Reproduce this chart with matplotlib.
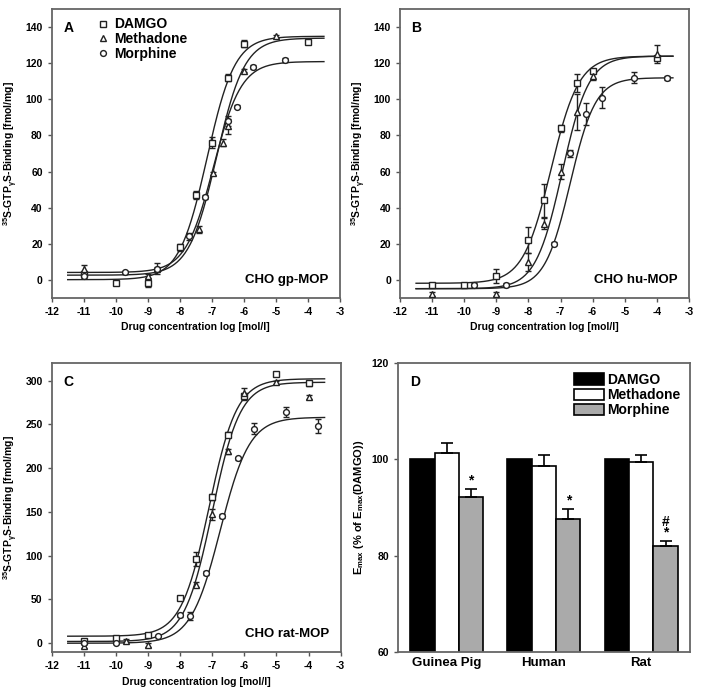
import numpy as np
import matplotlib.pyplot as plt
from matplotlib.lines import Line2D

plt.rcParams['font.family'] = ['Liberation Sans', 'DejaVu Sans']
plt.rcParams['font.weight'] = 'bold'
plt.rcParams['mathtext.default'] = 'regular'
plt.rcParams['axes.unicode_minus'] = False

drugs = ['DAMGO', 'Methadone', 'Morphine']
markers = ['s', '^', 'o']

# Panel A - CHO gp-MOP
a_x = {
    'DAMGO': [-11, -10, -9, -8, -7.5, -7, -6.5, -6, -4],
    'Methadone': [-11, -9, -8.7, -7.4, -6.95, -6.65, -6.5, -6, -5],
    'Morphine': [-11, -9.7, -8.7, -7.7, -7.2, -6.5, -6.2, -5.7, -4.7],
}
a_y = {
    'DAMGO': [3, -2, -2, 18, 47, 76, 112, 131, 132],
    'Methadone': [6, 2, 6, 28, 59, 76, 85, 116, 135],
    'Morphine': [2, 4, 6, 24, 46, 88, 96, 118, 122],
}
a_err = {
    'DAMGO': [1, 1, 2, 2, 2, 3, 2, 2, 1],
    'Methadone': [2, 1, 3, 2, 1, 2, 4, 1, 1],
    'Morphine': [1, 1, 1, 2, 1, 3, 1, 1, 1],
}
# fit parameters: bottom, top, logEC50, hill
a_fit = {
    'DAMGO': (0, 135, -7.15, 1.0),
    'Methadone': (2.5, 134, -6.85, 1.0),
    'Morphine': (4, 121, -6.95, 1.0),
}

# Panel B - CHO hu-MOP
b_x = {
    'DAMGO': [-11, -10, -9, -8, -7.5, -7, -6.5, -6, -4],
    'Methadone': [-11, -9, -8, -7.5, -7, -6.5, -6, -4],
    'Morphine': [-9.7, -8.7, -7.2, -6.7, -6.2, -5.7, -4.7, -3.7],
}
b_y = {
    'DAMGO': [-3, -3, 2, 22, 44, 84, 109, 116, 123],
    'Methadone': [-8, -8, 10, 31, 60, 93, 113, 125],
    'Morphine': [-3, -3, 20, 70, 92, 101, 112, 112],
}
b_err = {
    'DAMGO': [1, 1, 4, 7, 9, 2, 5, 1, 1],
    'Methadone': [1, 1, 5, 3, 4, 10, 2, 5],
    'Morphine': [1, 1, 1, 2, 6, 6, 3, 1],
}
b_fit = {
    'DAMGO': (-2, 124, -7.3, 1.0),
    'Methadone': (-5, 124, -6.95, 1.05),
    'Morphine': (-5, 112, -6.7, 1.1),
}

# Panel C - CHO rat-MOP
c_x = {
    'DAMGO': [-11, -10, -9, -8, -7.5, -7, -6.5, -6, -5, -4],
    'Methadone': [-11, -9.7, -9, -7.5, -7, -6.5, -6, -5, -4],
    'Morphine': [-11, -10, -8.7, -8, -7.7, -7.2, -6.7, -6.2, -5.7, -4.7, -3.7],
}
c_y = {
    'DAMGO': [2, 6, 9, 52, 96, 167, 238, 282, 308, 297],
    'Methadone': [-3, 3, -2, 67, 147, 219, 286, 298, 281],
    'Morphine': [0, 0, 8, 32, 31, 80, 145, 211, 245, 264, 248],
}
c_err = {
    'DAMGO': [2, 2, 2, 2, 8, 3, 3, 4, 2, 3],
    'Methadone': [2, 2, 2, 3, 6, 3, 6, 2, 2],
    'Morphine': [1, 1, 1, 2, 5, 2, 2, 2, 6, 6, 8],
}
c_fit = {
    'DAMGO': (8, 302, -7.1, 1.0),
    'Methadone': (2, 298, -7.0, 1.0),
    'Morphine': (0, 258, -6.75, 0.95),
}

# Panel D - Emax relative to DAMGO
species = ['Guinea Pig', 'Human', 'Rat']
emax_damgo = [100, 100, 100]
emax_methadone = [101.3, 98.6, 99.4]
emax_morphine = [92.1, 87.7, 81.9]
err_methadone = [2.0, 2.4, 1.4]
err_morphine = [1.8, 2.0, 1.2]
sig_marks = ['*', '*', '#\n*']


def hill(x, bottom, top, ec50, h):
    return bottom + (top - bottom) / (1 + 10 ** ((ec50 - x) * h))


def dose_panel(ax, xs, ys, errs, fits, ylim, yticks, letter, cell, legend=False):
    xx = np.linspace(-11.5, -3.5, 300)
    for d, m in zip(drugs, markers):
        ax.plot(xx, hill(xx, *fits[d]), color='#222222', lw=1.0, zorder=2)
        ax.errorbar(xs[d], ys[d], yerr=errs[d], fmt=m, ms=4.2, mfc='white',
                    mec='#222222', mew=1.0, ecolor='#222222', elinewidth=1.0,
                    capsize=2.5, zorder=3)
    ax.set_xlim(-12, -3)
    ax.set_xticks(range(-12, -2))
    ax.set_ylim(*ylim)
    ax.set_yticks(yticks)
    ax.set_xlabel('Drug concentration log [mol/l]', fontsize=7.5, fontweight='bold')
    ax.set_ylabel('$^{35}$S-GTP$_{\\gamma}$S-Binding [fmol/mg]', fontsize=7.5, fontweight='bold')
    ax.text(0.04, 0.96, letter, transform=ax.transAxes, fontsize=10, fontweight='bold', va='top')
    ax.text(0.96, 0.04, cell, transform=ax.transAxes, fontsize=9.5, fontweight='bold',
            ha='right', va='bottom')
    if legend:
        handles = [Line2D([], [], ls='none', marker=m, ms=4.2, mfc='white',
                          mec='#222222', mew=1.0) for m in markers]
        ax.legend(handles, drugs, loc='upper left', bbox_to_anchor=(0.12, 1.01),
                  frameon=False, fontsize=10, handletextpad=0.4, labelspacing=0.05,
                  handlelength=0.8, borderpad=0.3)


def style(ax):
    for s in ax.spines.values():
        s.set_color('#666666')
        s.set_linewidth(1.3)
    ax.tick_params(labelsize=7.5, length=3, width=1, color='#555555')
    for lab in ax.get_xticklabels() + ax.get_yticklabels():
        lab.set_fontweight('bold')


fig = plt.figure(figsize=(7.10, 6.97), dpi=100)
axA = fig.add_axes([0.0728, 0.5729, 0.406, 0.4138])
axB = fig.add_axes([0.5634, 0.5729, 0.407, 0.4138])
axC = fig.add_axes([0.0728, 0.0646, 0.407, 0.4146])
axD = fig.add_axes([0.5606, 0.0646, 0.411, 0.4146])

dose_panel(axA, a_x, a_y, a_err, a_fit, (-10, 150), range(0, 141, 20), 'A', 'CHO gp-MOP', legend=True)
dose_panel(axB, b_x, b_y, b_err, b_fit, (-10, 150), range(0, 141, 20), 'B', 'CHO hu-MOP')
dose_panel(axC, c_x, c_y, c_err, c_fit, (-10, 320), range(0, 301, 50), 'C', 'CHO rat-MOP')

pos = np.arange(len(species))
w = 0.25
axD.bar(pos - w, emax_damgo, w, color='black', edgecolor='black', lw=1.2, label='DAMGO')
axD.bar(pos, emax_methadone, w, color='white', edgecolor='black', lw=1.2,
        yerr=[np.zeros(3), err_methadone], capsize=4, error_kw=dict(lw=1.2, capthick=1.2),
        label='Methadone')
axD.bar(pos + w, emax_morphine, w, color='#aaaaaa', edgecolor='black', lw=1.2,
        yerr=[np.zeros(3), err_morphine], capsize=4, error_kw=dict(lw=1.2, capthick=1.2),
        label='Morphine')
for p, v, e, s in zip(pos, emax_morphine, err_morphine, sig_marks):
    axD.text(p + w, v + e + 0.2, s, ha='center', va='bottom', fontsize=10,
             fontweight='bold', linespacing=0.7)
axD.set_xlim(-0.5, 2.5)
axD.set_ylim(60, 120)
axD.set_yticks([60, 80, 100, 120])
axD.set_xticks(pos)
axD.set_xticklabels(species, fontsize=9.5, fontweight='bold')
axD.set_ylabel('E$_{max}$ (% of E$_{max}$(DAMGO))', fontsize=8, fontweight='bold')
axD.text(0.04, 0.96, 'D', transform=axD.transAxes, fontsize=10, fontweight='bold', va='top')
axD.legend(loc='upper right', frameon=False, fontsize=10, handlelength=2.2,
           handleheight=0.9, handletextpad=0.2, labelspacing=0.1, borderaxespad=0.3)

for ax in (axA, axB, axC, axD):
    style(ax)
axD.tick_params(axis='x', labelsize=9.5, length=0)

fig.savefig('out.png', dpi=100)
